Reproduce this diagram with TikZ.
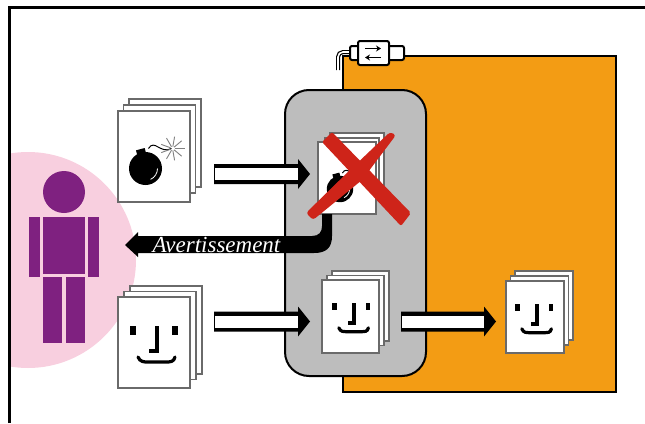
\documentclass[tikz,border=0pt]{standalone}
\usepackage{fontspec}
\setmainfont{Liberation Serif}
\usetikzlibrary{calc,arrows.meta}
\definecolor{orangebg}{HTML}{F39C14}
\definecolor{grayzone}{HTML}{BDBDBD}
\definecolor{pinkbg}{HTML}{F8CFDF}
\definecolor{purpleman}{HTML}{7F2180}
\definecolor{redx}{HTML}{CE2419}
\definecolor{pageline}{HTML}{6A6A6A}
\tikzset{
  pagesheet/.style={draw=pageline,fill=white,line width=1.3pt},
  manpart/.style={fill=purpleman,draw=none},
  facestroke/.style={line width=#1,draw=black,line cap=round},
  warnlabel/.style={text=white,font=\fontsize{23}{23}\selectfont\itshape,inner sep=0pt},
  panel/.style={draw=black,line width=2pt},
  plugpart/.style={draw=black,line width=2pt,fill=white,rounded corners=2pt},
}
\newcommand{\sheetstack}[6]{%
  \draw[pagesheet] (#1+2*#5,#2-2*#6) rectangle (#3+2*#5,#4-2*#6-3);
  \draw[pagesheet] (#1+#5,#2-#6) rectangle (#3+#5,#4-#6-3);
  \draw[pagesheet] (#1,#2) rectangle (#3,#4);
}
\newcommand{\faceicon}[3]{%
  \begin{scope}[shift={(#1,#2)},scale=#3]
    \fill (-27,0) rectangle (-21.5,9);
    \fill (15,0) rectangle (20.5,9);
    \draw[facestroke=3.2pt,line cap=butt] (0,0) -- (0,25) -- (-8,25);
    \draw[facestroke=3.2pt] (-19,31) .. controls (-17,36) and (-13,36) .. (-9,36) -- (9,36) .. controls (13,36) and (17,36) .. (18,31);
  \end{scope}}
\newcommand{\bombicon}[3]{%
  \begin{scope}[shift={(#1,#2)},scale=#3]
    \fill[rotate=15] (-4.5,-20) rectangle (4.5,-12);
    \fill (0,0) circle (16.5);
    \draw[white,line width=.8pt] (12,0) arc (0:65:12);
    \draw[black,line width=1pt] (3,-20) .. controls (9,-30) and (15,-14) .. (26,-20);
    \foreach \a in {0,40,...,320} \draw[gray,line width=.9pt] ($(27,-20)+(\a:2)$) -- ($(27,-20)+(\a:12)$);
  \end{scope}}
\newcommand{\hollowarrow}[2]{%
  \fill ($(#1)+(0,-10)$) -- ($(#2)+(-12,-10)$) -- ($(#2)+(-12,-15)$) -- (#2) -- ($(#2)+(-12,15)$) -- ($(#2)+(-12,10)$) -- ($(#1)+(0,10)$) -- cycle;
  \fill[white] ($(#1)+(1,-6)$) rectangle ($(#2)+(-12,6)$);
}
\begin{document}
\begin{tikzpicture}[x=1pt,y=-1pt]
\useasboundingbox (0,0) rectangle (645,423);
\draw[line width=3pt,line cap=butt] (9.5,423) -- (9.5,7.5) -- (645,7.5);
\begin{scope}
  \clip (11,9) rectangle (200,423);
  \fill[pinkbg] (28,260) circle (108);
\end{scope}
\fill[manpart] (64,192) circle (21);
\fill[manpart] (43,217) rectangle (85,274);
\fill[manpart] (29,217) rectangle (40,277);
\fill[manpart] (88,217) rectangle (99,277);
\fill[manpart] (43,277) rectangle (62,343);
\fill[manpart] (65.5,277) rectangle (85,343);
\draw[panel,fill=orangebg,line width=1.3pt] (343,56) rectangle (616,392);
\draw[black,line width=4pt] (351,52) -- (343,52) arc (270:180:5) -- (338,70);
\draw[white,line width=1.6pt] (351,52) -- (343,52) arc (270:180:5) -- (338,73);
\draw[plugpart] (350,46) rectangle (360,60);
\draw[plugpart] (387,46) rectangle (404,60);
\node[plugpart,minimum width=31pt,minimum height=24pt,inner sep=0pt] (plug) at (373.5,53) {};
\draw[line width=1.4pt,-{Stealth[length=5pt,width=6pt]}] (365,48.5) -- (381,48.5);
\draw[line width=1.4pt,-{Stealth[length=5pt,width=6pt]}] (381,57.5) -- (365,57.5);
\draw[panel,fill=grayzone,rounded corners=24pt] (285,90) rectangle (426,376);
\sheetstack{118}{111}{190}{202}{5.5}{6}
\bombicon{145.5}{168.5}{1}
\sheetstack{118}{297}{190}{388}{6}{5.5}
\faceicon{157}{326}{1}
\draw[pagesheet] (330,133) rectangle (384,193);
\draw[pagesheet] (325,138) rectangle (379,200);
\draw[pagesheet] (318,142) rectangle (376,214);
\bombicon{340}{189}{.8}
\fill[redx,rounded corners=2pt] (322,142) -- (332,132) -- (411,213) -- (401,226) -- cycle;
\fill[redx,rounded corners=3pt] (306,213) -- (350,170) -- (390,132) -- (396,135) -- (362,180) -- (313,220) -- cycle;
\sheetstack{322}{280}{379}{353}{5}{4.5}
\faceicon{354}{303}{.8}
\sheetstack{506}{281}{564}{353}{4.5}{5}
\faceicon{537}{304}{.8}
\coordinate (a1s) at (214,174); \coordinate (a1e) at (310,174);
\coordinate (a2s) at (214,321.5); \coordinate (a2e) at (310,321.5);
\coordinate (a3s) at (401,321.5); \coordinate (a3e) at (496,321.5);
\hollowarrow{a1s}{a1e}
\hollowarrow{a2s}{a2e}
\hollowarrow{a3s}{a3e}
\fill (322,214) -- (332,214) -- (332,236) .. controls (332,248) and (326,253) .. (314,253) -- (138,253) -- (138,257) -- (125,245) -- (138,232) -- (138,236) -- (312,236) .. controls (319,236) and (322,232) .. (322,226) -- cycle;
\node[warnlabel] (warn) at (216.5,244.5) {Avertissement};
\end{tikzpicture}
\end{document}
